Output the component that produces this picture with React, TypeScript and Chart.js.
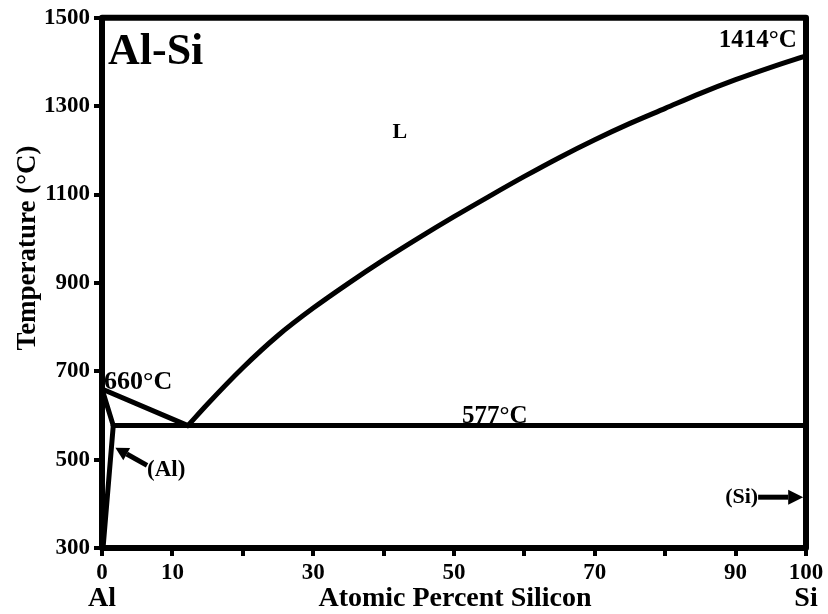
import React, { useEffect, useRef } from "react";
import { Chart, registerables } from "chart.js";

Chart.register(...registerables);

// ---- Data ----
const xTicksShown = [0, 10, 30, 50, 70, 90, 100];
const yTicks = [300, 500, 700, 900, 1100, 1300, 1500];

const liquidusAlX = [0, 12.2];
const liquidusAlT = [660, 577];

const liquidusSiX = [12.2, 15, 20, 25, 30, 35, 40, 45, 50, 55, 60, 65, 70, 75, 80, 85, 90, 95, 100];
const liquidusSiT = [577, 626, 708, 781, 843, 899, 952, 1002, 1050, 1096, 1141, 1184, 1224, 1261, 1295, 1329, 1360, 1388, 1414];

const solidusX = [0, 1.6];
const solidusT = [660, 577];

const solvusX = [1.6, 0.15];
const solvusT = [577, 300];

const eutecticX = [1.6, 100];
const eutecticT = [577, 577];

// arrows: [tailX, tailT, tipX, tipT]
const arrowAl = [6.4, 487, 1.9, 527];
const arrowSi = [93.2, 415, 99.6, 415];

// text labels
const labelTexts = ["Al-Si", "1414°C", "660°C", "577°C", "L", "(Al)", "(Si)"];
const labelX = [0.85, 98.7, 0.3, 55.8, 42.3, 6.4, 93.2];
const labelT = [1421, 1448, 675, 598, 1240, 476, 415];

const xTitle = "Atomic Percent Silicon";
const yTitle = "Temperature (°C)";
const leftElement = "Al";
const rightElement = "Si";

const zip = (xs: number[], ys: number[]) => xs.map((x, i) => ({ x, y: ys[i] }));

const FONT = '"Liberation Serif", "Times New Roman", serif';

export default function App() {
  const ref = useRef<HTMLCanvasElement | null>(null);

  useEffect(() => {
    if (!ref.current) return;
    const lineDs = (xs: number[], ys: number[], extra: any = {}) => ({
      data: zip(xs, ys),
      borderColor: "#000",
      borderWidth: 5,
      pointRadius: 0,
      showLine: true,
      fill: false,
      borderCapStyle: "round",
      borderJoinStyle: "round",
      ...extra,
    });

    const overlay = {
      id: "overlay",
      afterDatasetsDraw(chart: any) {
        const { ctx, chartArea, scales } = chart;
        const xs = scales.x;
        const ys = scales.y;
        ctx.save();
        // frame
        ctx.strokeStyle = "#000";
        ctx.lineWidth = 6;
        ctx.lineJoin = "round";
        ctx.strokeRect(chartArea.left, chartArea.top, chartArea.right - chartArea.left, chartArea.bottom - chartArea.top);

        // arrows
        const drawArrow = (a: number[], headLen: number, headHalf: number) => {
          const x1 = xs.getPixelForValue(a[0]);
          const y1 = ys.getPixelForValue(a[1]);
          const x2 = xs.getPixelForValue(a[2]);
          const y2 = ys.getPixelForValue(a[3]);
          const ang = Math.atan2(y2 - y1, x2 - x1);
          const bx = x2 - headLen * Math.cos(ang);
          const by = y2 - headLen * Math.sin(ang);
          ctx.lineWidth = 5;
          ctx.lineCap = "butt";
          ctx.beginPath();
          ctx.moveTo(x1, y1);
          ctx.lineTo(bx, by);
          ctx.stroke();
          ctx.beginPath();
          ctx.moveTo(x2, y2);
          ctx.lineTo(bx + headHalf * Math.sin(ang), by - headHalf * Math.cos(ang));
          ctx.lineTo(bx - headHalf * Math.sin(ang), by + headHalf * Math.cos(ang));
          ctx.closePath();
          ctx.fillStyle = "#000";
          ctx.fill();
        };
        drawArrow(arrowAl, 13, 7);
        drawArrow(arrowSi, 15, 7.5);

        // labels
        const sizes = [44, 25, 26, 25, 22, 23, 22];
        const aligns = ["left", "right", "left", "center", "center", "left", "right"];
        ctx.fillStyle = "#000";
        ctx.textBaseline = "middle";
        labelTexts.forEach((t, i) => {
          ctx.font = `bold ${sizes[i]}px ${FONT}`;
          ctx.textAlign = aligns[i];
          ctx.fillText(t, xs.getPixelForValue(labelX[i]), ys.getPixelForValue(labelT[i]));
        });

        // axis titles
        ctx.font = `bold 28px ${FONT}`;
        ctx.textAlign = "center";
        const by = chartArea.bottom + 51;
        ctx.fillText(xTitle, (chartArea.left + chartArea.right) / 2 + 1, by);
        ctx.fillText(leftElement, xs.getPixelForValue(0), by);
        ctx.fillText(rightElement, xs.getPixelForValue(100), by);

        ctx.save();
        ctx.translate(28, (chartArea.top + chartArea.bottom) / 2 - 35);
        ctx.rotate(-Math.PI / 2);
        ctx.font = `bold 27px ${FONT}`;
        ctx.fillText(yTitle, 0, 0);
        ctx.restore();
        ctx.restore();
      },
    };

    const chart = new Chart(ref.current, {
      type: "scatter",
      data: {
        datasets: [
          lineDs(liquidusAlX, liquidusAlT),
          lineDs(liquidusSiX, liquidusSiT, { cubicInterpolationMode: "monotone" }),
          lineDs(solidusX, solidusT),
          lineDs(solvusX, solvusT),
          lineDs(eutecticX, eutecticT),
        ] as any,
      },
      options: {
        animation: false,
        responsive: false,
        devicePixelRatio: 1,
        layout: { padding: { left: 0, top: 17, right: 22, bottom: 0 } },
        plugins: { legend: { display: false }, tooltip: { enabled: false } },
        scales: {
          x: {
            type: "linear",
            min: 0,
            max: 100,
            afterFit: (s: any) => { s.height = 66; },
            afterBuildTicks: (s: any) => {
              s.ticks = [0, 10, 20, 30, 40, 50, 60, 70, 80, 90, 100].map((v) => ({ value: v }));
            },
            ticks: {
              autoSkip: false,
              maxRotation: 0,
              padding: 3,
              color: "#000",
              font: { family: FONT, size: 23, weight: "bold" },
              callback: (v: any) => (xTicksShown.includes(Number(v)) ? String(v) : ""),
            },
            grid: { drawOnChartArea: false, drawTicks: true, tickLength: 8, lineWidth: 4, color: "#000" },
            border: { display: false },
          },
          y: {
            type: "linear",
            min: 300,
            max: 1500,
            afterFit: (s: any) => { s.width = 102; },
            afterBuildTicks: (s: any) => {
              s.ticks = yTicks.map((v) => ({ value: v }));
            },
            ticks: {
              autoSkip: false,
              padding: 4,
              color: "#000",
              font: { family: FONT, size: 23, weight: "bold" },
              callback: (v: any) => String(v),
            },
            grid: { drawOnChartArea: false, drawTicks: true, tickLength: 8, lineWidth: 4, color: "#000" },
            border: { display: false },
          },
        },
      } as any,
      plugins: [overlay],
    });
    return () => chart.destroy();
  }, []);

  return (
    <div style={{ position: "fixed", left: 0, top: 0, width: 828, height: 614, background: "#fff" }}>
      <canvas ref={ref} width={828} height={614} />
    </div>
  );
}
